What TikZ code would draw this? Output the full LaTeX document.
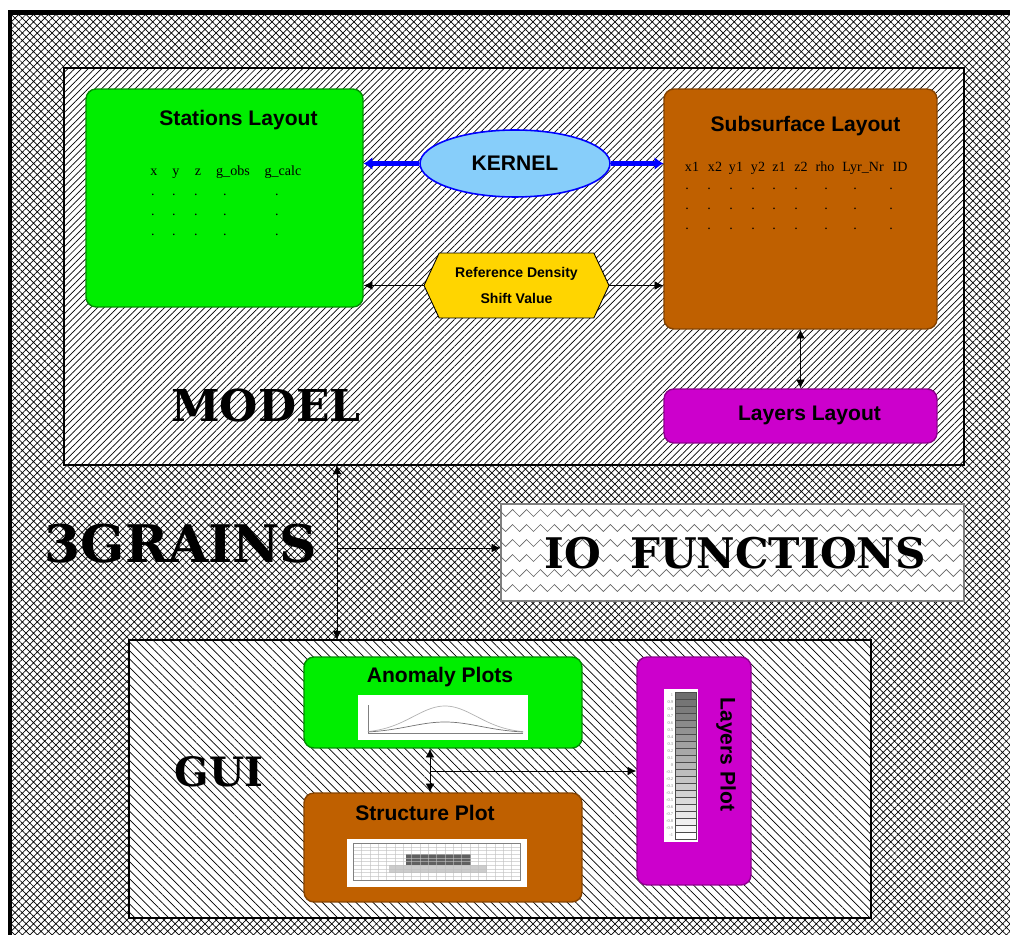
\documentclass[tikz,border=0pt]{standalone}
\usepackage{fontspec}
\setmainfont{Liberation Serif}
\newfontfamily\headfont{Liberation Sans}
\newfontfamily\bigfont{DejaVu Serif}
\usetikzlibrary{arrows.meta,patterns.meta,shapes.geometric,shapes.symbols,decorations.pathmorphing}
\definecolor{boxgreen}{RGB}{0,238,0}
\definecolor{boxbrown}{RGB}{191,96,0}
\definecolor{boxmagenta}{RGB}{204,0,204}
\definecolor{kernblue}{RGB}{135,206,250}
\definecolor{refgold}{RGB}{255,213,0}

\begin{document}
\begin{tikzpicture}[x=0.02cm, y=-0.02cm,
    box/.style={rounded corners=0.2cm, inner sep=0pt, line width=0.8pt},
    frame/.style={draw, line width=0.8pt, inner sep=0pt, preaction={fill=white}},
    title/.style={font=\headfont\bfseries\fontsize{12}{14}\selectfont, inner sep=1pt},
    col/.style={font=\fontsize{8}{9}\selectfont, inner sep=0pt, anchor=base},
    biglbl/.style={font=\bigfont\bfseries\fontsize{#1}{#1}\selectfont, inner sep=0pt},
    ticklbl/.style={font=\fontsize{2.5}{3}\selectfont, inner sep=0pt, anchor=east, gray},
    link1/.style={line width=0.5pt, -{Latex[length=5pt,width=5pt]}},
    link2/.style={line width=0.5pt, {Latex[length=5pt,width=5pt]}-{Latex[length=5pt,width=5pt]}},
    kerlink/.style={blue, line width=2.4pt, -{Latex[length=5pt,width=7.5pt]}}]
  \clip (0,0) rectangle (1010,935);
  \fill[white] (0,0) rectangle (1010,935);
  % outer frame
  \fill[pattern={Hatch[angle=45,distance=3pt,line width=0.4pt]}] (10,12.5) rectangle (1040,960);
  \draw[line width=2.8pt] (10,960) -- (10,12.5) -- (1040,12.5);

  % MODEL
  \node[frame, pattern={Lines[angle=45,distance=2.7pt,line width=0.4pt]},
    minimum width=18cm, minimum height=7.94cm] (model) at (514,266.5) {};
  \node[box, fill=boxgreen, draw=boxgreen!60!black, minimum width=5.54cm, minimum height=4.36cm] (stations) at (224.5,198) {};
  \node[title] (stitle) at (238.5,120) {Stations Layout};
  \foreach \lab/\xx [count=\i] in {x/154, y/176, z/198, g\_obs/233, g\_calc/283}
    \node[col] (scol\i) at (\xx,176) {\lab};
  \foreach \xx [count=\i] in {153,174,196,225,277}
    \foreach \yy [count=\j] in {196,216,236}
      \node[col] (sdot\i\j) at (\xx,\yy) {.};

  \node[box, fill=boxbrown, draw=boxbrown!70!black, minimum width=5.46cm, minimum height=4.8cm] (subsurf) at (800.5,209) {};
  \node[title] (subtitle) at (805.5,126) {Subsurface Layout};
  \foreach \lab/\xx [count=\i] in {x1/692, x2/715, y1/736, y2/758, z1/779, z2/801, rho/825, Lyr\_Nr/863, ID/900}
    \node[col] (ucol\i) at (\xx,172) {\lab};
  \foreach \xx [count=\i] in {687,709,731,753,774,796,826,855,891}
    \foreach \yy [count=\j] in {190,210,230}
      \node[col] (udot\i\j) at (\xx,\yy) {.};

  \node[ellipse, fill=kernblue, draw=blue, line width=0.9pt, title,
    minimum width=3.8cm, minimum height=1.34cm] (kernel) at (515,163.5) {KERNEL};
  \node[signal, signal to=west and east, signal pointer angle=130, fill=refgold, draw, line width=0.5pt,
    align=center, font=\headfont\bfseries\fontsize{8}{15}\selectfont,
    minimum width=3.7cm, minimum height=1.3cm, inner sep=0pt] (refdens) at (516.5,285.5) {Reference Density\\Shift Value};
  \node[box, fill=boxmagenta, draw=boxmagenta!70!black, minimum width=5.46cm, minimum height=1.08cm] (layerslay) at (800.5,416) {};
  \node[title] (lltitle) at (809.5,415) {Layers Layout};
  \node[biglbl=25] (modellbl) at (266,406) {MODEL};

  \draw[kerlink] (kernel.west) -- (kernel.west -| stations.east);
  \draw[kerlink] (kernel.east) -- (kernel.east -| subsurf.west);
  \draw[link1] (refdens.west) -- (refdens.west -| stations.east);
  \draw[link1] (refdens.east) -- (refdens.east -| subsurf.west);
  \draw[link2] (subsurf.south) -- (layerslay.north);

  % IO
  \node[frame, draw=gray, minimum width=9.26cm, minimum height=1.94cm] (io) at (732.5,552.5) {};
  \begin{scope}
    \clip (io.south west) rectangle (io.north east);
    \foreach \yy in {513,528,543,558,573,588}
      \draw[black!60, line width=0.4pt, decorate, decoration={zigzag, segment length=0.28cm, amplitude=0.07cm}] (495,\yy) -- (975,\yy);
  \end{scope}
  \node[biglbl=24] (iolbl) at (735,553) {IO~~FUNCTIONS};
  \node[biglbl=29.5] (grains) at (181,544) {3GRAINS};

  % GUI
  \node[frame, pattern={Lines[angle=-45,distance=3.4pt,line width=0.4pt]},
    minimum width=14.84cm, minimum height=5.56cm] (gui) at (500,779) {};
  \node[biglbl=23] (guilbl) at (219,772) {GUI};

  \coordinate (mg) at (337,548);
  \draw[link2] (model.south -| mg) -- (gui.north -| mg);
  \draw[link1] (mg) -- (mg -| io.west);

  \node[box, fill=boxgreen, draw=boxgreen!60!black, minimum width=5.56cm, minimum height=1.82cm] (anomaly) at (443,702.5) {};
  \node[title] (atitle) at (440,677) {Anomaly Plots};
  \fill[white] (358,695) rectangle (528,740);
  \draw[gray, line width=0.3pt] (368,705) -- (368,733) -- (523,733);
  \draw[gray!60, line width=0.4pt, domain=368:523, samples=60] plot (\x,{733-27*exp(-1*pow((\x-445)/45,2))});
  \draw[gray!90!black, line width=0.4pt, domain=368:523, samples=60] plot (\x,{733-11*exp(-1*pow((\x-445)/50,2))});

  \node[box, fill=boxbrown, draw=boxbrown!70!black, minimum width=5.56cm, minimum height=2.18cm] (structure) at (443,847.5) {};
  \node[title] (sttitle) at (425,813) {Structure Plot};
  \fill[white] (347,839) rectangle (527,887);
  \fill[gray!75!black] (406,854) rectangle (471,865);
  \fill[gray!40] (389,865) rectangle (487,873);
  \foreach \i in {0,...,20}
    \draw[gray!50, opacity=0.6, line width=0.2pt] ({353+\i*8.35},843) -- ({353+\i*8.35},880);
  \foreach \i in {0,...,10}
    \draw[gray!50, opacity=0.6, line width=0.2pt] (353,{843+\i*3.7}) -- (520,{843+\i*3.7});
  \draw[gray, line width=0.4pt] (353,843) rectangle (520,880);

  \node[box, fill=boxmagenta, draw=boxmagenta!70!black, minimum width=2.28cm, minimum height=4.56cm] (layersplot) at (694,771) {};
  \node[title, rotate=-90] (lptitle) at (726,754.5) {Layers Plot};
  \fill[white] (664,689) rectangle (698,842);
  \foreach \i in {0,...,20}
    \filldraw[fill=black!\fpeval{57*(1-\i/20)}, draw=black!70, line width=0.3pt] (675,{692+\i*7}) rectangle (696,{699+\i*7});
  \foreach \lab [count=\i from 0] in {1,0.9,0.8,0.7,0.6,0.5,0.4,0.3,0.2,0.1,0,-0.1,-0.2,-0.3,-0.4,-0.5,-0.6,-0.7,-0.8,-0.9,-1}
    \node[ticklbl] (tick\i) at (673.5,{695.5+\i*7}) {\lab};

  \coordinate (as) at (430,771);
  \draw[link2] (anomaly.south -| as) -- (structure.north -| as);
  \draw[link1] (as) -- (as -| layersplot.west);
\end{tikzpicture}
\end{document}
